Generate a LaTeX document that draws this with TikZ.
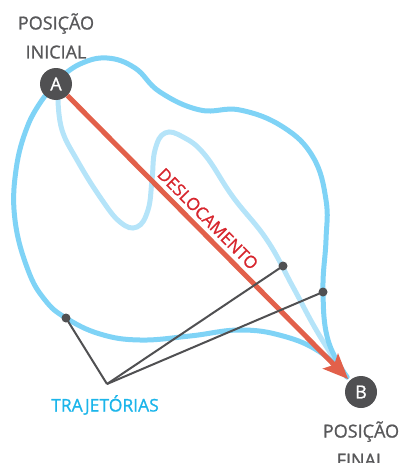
\documentclass[tikz,border=0pt]{standalone}
\usepackage{fontspec}
\setmainfont{Open Sans}
\newfontfamily\lblfont{Open Sans}[FakeBold=1]
\usetikzlibrary{arrows.meta}
\definecolor{outerblue}{HTML}{7FD3F6}
\definecolor{lightblue}{HTML}{B5E4F9}
\definecolor{labelblue}{HTML}{1CB5EA}
\definecolor{arrowred}{HTML}{E2604A}
\definecolor{textred}{HTML}{D7262E}
\definecolor{ptgrey}{HTML}{505052}
\definecolor{txtgrey}{HTML}{58585A}
\begin{document}
\begin{tikzpicture}[x=1pt,y=-1pt,
  point/.style={circle,fill=ptgrey,text=white,minimum size=32pt,inner sep=0pt,font=\lblfont\fontsize{18}{18}\selectfont},
  poslabel/.style={align=center,text=txtgrey,font=\lblfont\fontsize{18}{29}\selectfont},
  traj/.style={line width=5pt,line cap=round},
  dot/.style={circle,fill=ptgrey,minimum size=9pt,inner sep=0pt},
  lead/.style={draw=ptgrey,line width=2pt}]
\useasboundingbox (0,0) rectangle (399,463);
% trajectories
\draw[traj,lightblue] plot[smooth,tension=0.7] coordinates {(58,100) (62,130) (77,160) (100,197) (120,222) (137,227) (148,210) (152,180) (155,150) (165,133) (183,137) (205,155) (233,197) (267,240) (293,287) (318,333) (345,375)};
\draw[traj,outerblue] plot[smooth,tension=0.7] coordinates {(60,78) (80,64) (107,58) (135,68) (160,92) (200,110) (240,110) (283,127) (313,157) (326,200) (326,240) (323,290) (328,340) (347,377)};
\draw[traj,outerblue] plot[smooth,tension=0.7] coordinates {(45,96) (28,125) (16,170) (15,220) (28,270) (45,300) (66,318) (100,334) (140,340) (190,336) (240,330) (283,336) (320,352) (347,377)};
% end points
\node[point] (A) at (56,84) {A};
\node[point] (B) at (361,392) {B};
\node[poslabel] (ini) at (56,36) {POSIÇÃO\\INICIAL};
\node[poslabel] (fin) at (361,444) {POSIÇÃO\\FINAL};
% displacement
\draw[arrowred,line width=5pt,-{Stealth[length=25pt,width=21pt,inset=5pt]},shorten >=2pt] (A) -- (B)
  node[sloped,above=1pt,pos=0.465,text=textred,font=\lblfont\fontsize{17}{17}\selectfont] (des) {DESLOCAMENTO};
% leaders
\node[dot] (d1) at (66,318) {};
\node[dot] (d2) at (283,266) {};
\node[dot] (d3) at (323,292) {};
\coordinate (hub) at (107,384);
\foreach \d in {d1,d2,d3} \draw[lead] (hub) -- (\d.center);
\node[text=labelblue,font=\lblfont\fontsize{17.5}{17.5}\selectfont] (trj) at (105,405) {TRAJETÓRIAS};
\end{tikzpicture}
\end{document}
